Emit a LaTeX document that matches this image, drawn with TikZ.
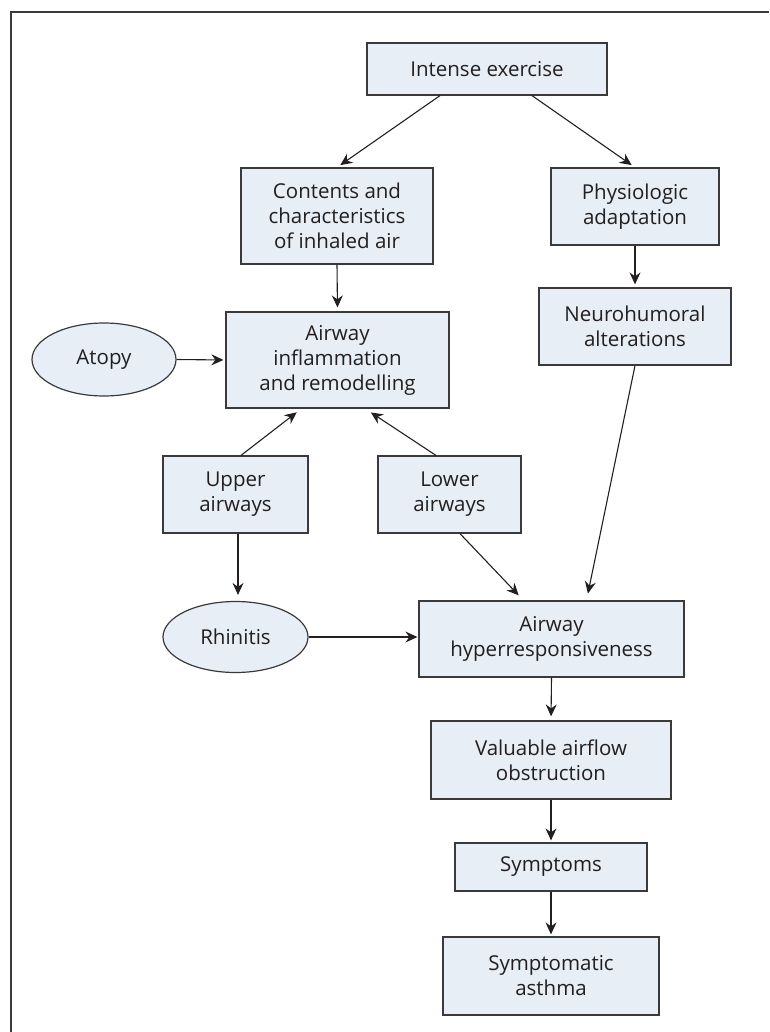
\documentclass[tikz,border=0pt]{standalone}
\usepackage{fontspec}
\setmainfont{Open Sans}
\usetikzlibrary{arrows.meta,shapes.geometric}
\definecolor{boxfill}{HTML}{E7EEF5}
\definecolor{boxline}{HTML}{3A3A3A}
\definecolor{txt}{HTML}{231F20}
\begin{document}
\begin{tikzpicture}[x=1pt,y=-1pt,
  every node/.style={font=\fontsize{20.5}{25}\selectfont, text=txt},
  box/.style={draw=boxline, line width=1.2pt, fill=boxfill, rectangle, align=center, inner sep=0pt},
  oval/.style={draw=boxline, line width=1.2pt, fill=boxfill, ellipse, align=center, inner sep=0pt},
  conn/.style={draw=txt, line width=1.1pt, -{Stealth[length=12pt,width=11pt,inset=4pt]}}
]
\useasboundingbox (0,0) rectangle (769,1032);
\draw[boxline, line width=1.2pt] (11,1032) -- (11,12) -- (769,12);

\node[box, minimum width=240pt, minimum height=52pt] (ex) at (487,69) {Intense exercise};
\node[box, minimum width=192pt, minimum height=96pt] (cont) at (337,216) {Contents and\\characteristics\\of inhaled air};
\node[box, minimum width=168pt, minimum height=77pt] (phys) at (635,206.5) {Physiologic\\adaptation};
\node[box, minimum width=192pt, minimum height=77pt] (neuro) at (635,326.5) {Neurohumoral\\alterations};
\node[box, minimum width=223pt, minimum height=96pt] (infl) at (337.5,360) {Airway\\inflammation\\and remodelling};
\node[oval, minimum width=144pt, minimum height=73pt] (atopy) at (104,359.5) {Atopy};
\node[box, minimum width=145pt, minimum height=77pt] (upper) at (235.5,494.5) {Upper\\airways};
\node[box, minimum width=143pt, minimum height=77pt] (lower) at (449.5,494.5) {Lower\\airways};
\node[oval, minimum width=145pt, minimum height=71pt] (rhin) at (235.5,637) {Rhinitis};
\node[box, minimum width=265pt, minimum height=76pt] (hyper) at (551.5,639) {Airway\\hyperresponsiveness};
\node[box, minimum width=240pt, minimum height=78pt] (val) at (551,760) {Valuable airflow\\obstruction};
\node[box, minimum width=192pt, minimum height=48pt] (sym) at (551,867) {Symptoms};
\node[box, minimum width=216pt, minimum height=78pt] (asth) at (551,976) {Symptomatic\\asthma};

\draw[conn, shorten >=4pt] ([xshift=-47pt]ex.south) -- (cont.north);
\draw[conn, shorten >=4pt] ([xshift=45pt]ex.south) -- (phys.north);
\draw[conn, shorten >=4pt] (cont.south) -- (infl.north);
\draw[conn, shorten >=3pt] (phys.south) -- (neuro.north);
\draw[conn, shorten >=2pt] (atopy.east) -- (infl.west);
\draw[conn, shorten >=6pt] ([xshift=5.5pt]upper.north) -- ([xshift=-36pt]infl.south);
\draw[conn, shorten >=7pt] ([xshift=-13.5pt]lower.north) -- ([xshift=27.5pt]infl.south);
\draw[conn, shorten >=6pt] ([xshift=2.5pt]upper.south) -- ([xshift=2.5pt]rhin.north);
\draw[conn, shorten >=7pt] ([xshift=10.5pt]lower.south) -- ([xshift=-28pt]hyper.north);
\draw[conn, shorten >=7pt] (neuro.south) -- ([xshift=35pt]hyper.north);
\draw[conn, shorten >=1pt] (rhin.east) -- (rhin.east -| hyper.west);
\draw[conn, shorten >=4pt] (hyper.south) -- (val.north);
\draw[conn, shorten >=2pt] (val.south) -- (sym.north);
\draw[conn, shorten >=2pt] (sym.south) -- (asth.north);
\end{tikzpicture}
\end{document}
